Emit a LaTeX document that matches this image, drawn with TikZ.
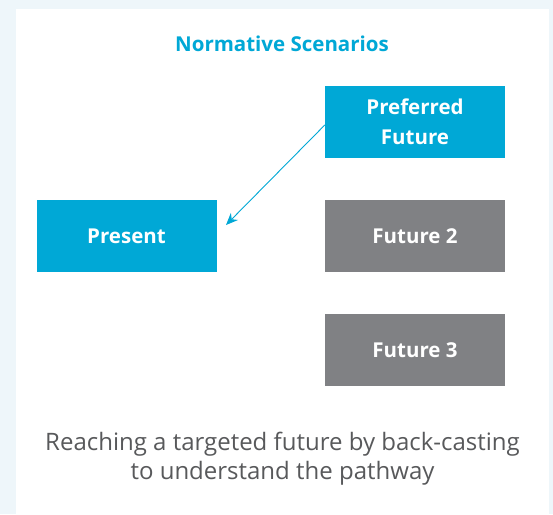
\documentclass[tikz,border=0pt]{standalone}
\usepackage{fontspec}
\setmainfont{Open Sans}
\usetikzlibrary{arrows.meta}
\definecolor{bgc}{HTML}{EEF6FA}
\definecolor{bluec}{HTML}{00A8D6}
\definecolor{grayc}{HTML}{808184}
\definecolor{txtc}{HTML}{58595B}
\tikzset{
  boxb/.style={fill=bluec, draw=none, minimum width=180pt, minimum height=72pt, inner sep=0pt, text=white, font=\fontsize{20.5}{30}\selectfont\bfseries, align=center},
  boxg/.style={boxb, fill=grayc},
  conn/.style={draw=bluec, line width=0.9pt, -{Stealth[length=12pt,width=10pt]}}
}
\begin{document}
\begin{tikzpicture}[x=1pt,y=-1pt]
\useasboundingbox (0,0) rectangle (553,514);
\fill[bgc] (0,0) rectangle (553,514);
\fill[white] (16,9) rectangle (549,514);
\node[text=bluec, font=\fontsize{20.5}{24}\selectfont\bfseries] (title) at (282,44) {Normative Scenarios};
\node[boxb] (pref) at (415,122) {Preferred\\Future};
\node[boxb] (pres) at (126.5,236) {Present};
\node[boxg] (f2) at (415,236) {Future 2};
\node[boxg] (f3) at (415,350) {Future 3};
\coordinate (tip) at (226,225);
\draw[conn] (pref.west |- 0,125) -- (tip);
\node[text=txtc, font=\fontsize{24}{29}\selectfont, align=center] (cap) at (282.5,459) {Reaching a targeted future by back-casting\\to understand the pathway};
\end{tikzpicture}
\end{document}
